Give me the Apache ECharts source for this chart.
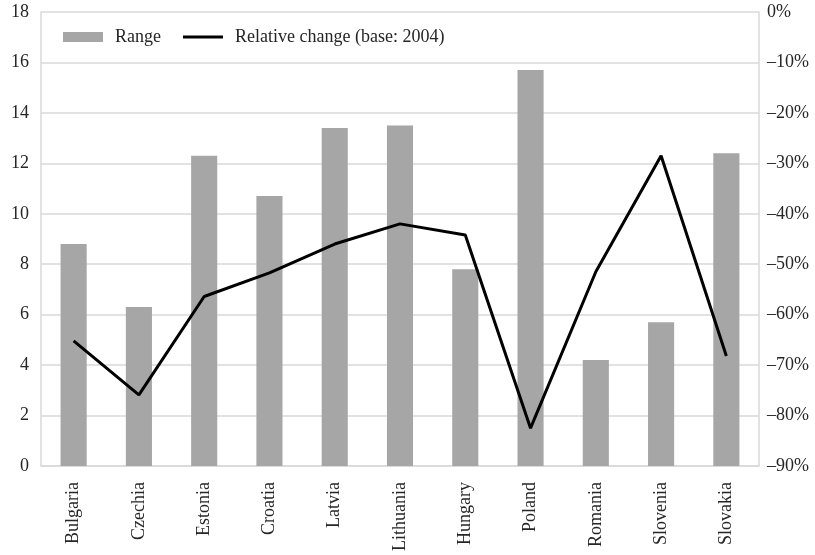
<!DOCTYPE html>
<html>
<head>
<meta charset="utf-8">
<script src="https://cdn.jsdelivr.net/npm/echarts@6/dist/echarts.min.js"></script>
<style>
  html, body { margin: 0; padding: 0; background: #fff; }
  #chart { width: 815px; height: 555px; }
</style>
</head>
<body>
<div id="chart"></div>
<script>
// Countries along the x axis
const countries = ['Bulgaria', 'Czechia', 'Estonia', 'Croatia', 'Latvia', 'Lithuania',
  'Hungary', 'Poland', 'Romania', 'Slovenia', 'Slovakia'];
// Range (left axis)
const rangeValues = [8.8, 6.3, 12.3, 10.7, 13.4, 13.5, 7.8, 15.7, 4.2, 5.7, 12.4];
// Relative change vs. 2004, as fractions (right axis)
const relativeChange = [-0.652, -0.759, -0.564, -0.517, -0.460, -0.420,
  -0.442, -0.825, -0.515, -0.285, -0.682];

const FONT = '"Liberation Serif", "DejaVu Serif", serif';
const FONT_SIZE = 18;
const TEXT = '#262626';
const GRID_LINE = '#d9d9d9';

const chart = echarts.init(document.getElementById('chart'), null, { renderer: 'canvas' });

chart.setOption({
  animation: false,
  textStyle: { fontFamily: FONT },
  grid: { left: 41, right: 56, top: 12, bottom: 89 },
  legend: {
    left: 58,
    top: 23,
    itemWidth: 40,
    itemHeight: 10,
    itemGap: 22,
    symbolKeepAspect: true,
    textStyle: { fontFamily: FONT, fontSize: FONT_SIZE, color: TEXT, padding: [0, 0, 0, 7] },
    data: [
      { name: 'Range', icon: 'rect' },
      { name: 'Relative change (base: 2004)', icon: 'path://M0,0H40V3H0Z' }
    ]
  },
  xAxis: {
    type: 'category',
    data: countries,
    axisLine: { lineStyle: { color: GRID_LINE, width: 1.5 } },
    axisTick: { show: false },
    axisLabel: {
      rotate: 90,
      margin: 16,
      fontFamily: FONT,
      fontSize: FONT_SIZE,
      color: TEXT
    }
  },
  yAxis: [
    {
      type: 'value',
      min: 0,
      max: 18,
      interval: 2,
      axisLine: { show: true, lineStyle: { color: GRID_LINE, width: 1.5 } },
      axisTick: { show: false },
      splitLine: { lineStyle: { color: GRID_LINE, width: 1.5 } },
      axisLabel: { fontFamily: FONT, fontSize: FONT_SIZE, color: TEXT, margin: 12 }
    },
    {
      type: 'value',
      min: -0.9,
      max: 0,
      interval: 0.1,
      position: 'right',
      axisLine: { show: true, lineStyle: { color: GRID_LINE, width: 1.5 } },
      axisTick: { show: false },
      splitLine: { show: false },
      axisLabel: {
        fontFamily: FONT,
        fontSize: FONT_SIZE,
        color: TEXT,
        margin: 8,
        formatter: v => {
          const p = Math.round(v * 100);
          return p === 0 ? '0%' : '\u2013' + Math.abs(p) + '%';
        }
      }
    }
  ],
  series: [
    {
      name: 'Range',
      type: 'bar',
      yAxisIndex: 0,
      data: rangeValues,
      barWidth: '40%',
      itemStyle: { color: '#a6a6a6' }
    },
    {
      name: 'Relative change (base: 2004)',
      type: 'line',
      yAxisIndex: 1,
      data: relativeChange,
      symbol: 'none',
      lineStyle: { color: '#000000', width: 3 },
      itemStyle: { color: '#000000' }
    }
  ]
});
</script>
</body>
</html>
